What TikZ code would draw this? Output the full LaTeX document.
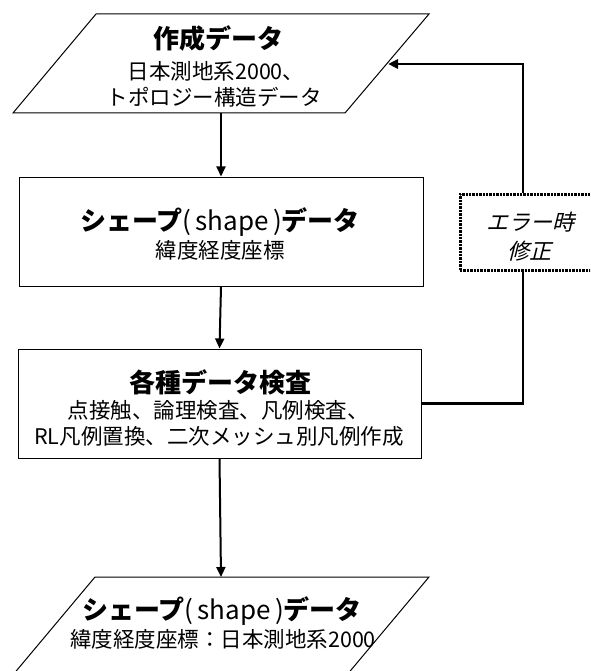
\documentclass[tikz,border=0pt]{standalone}
\usepackage{fontspec}
\setmainfont{Noto Sans CJK JP}
\newfontfamily\jpit{Noto Sans CJK JP}[FakeSlant=0.25]
\usetikzlibrary{arrows.meta}
\newcommand\shapeword{{\mdseries(\,shape\,)}}
\begin{document}
\begin{tikzpicture}[x=1pt,y=-1pt,
  outline/.style={draw=black,line width=1pt},
  procbox/.style={outline,inner sep=0pt,minimum width=404pt,minimum height=109pt},
  ttl/.style={font=\fontsize{26}{30}\selectfont\bfseries,inner sep=0pt},
  txt/.style={font=\fontsize{21.5}{25}\selectfont,inner sep=0pt},
  ittxt/.style={font=\fontsize{22}{26}\selectfont\jpit,inner sep=0pt},
  flow/.style={line width=2pt,-{Triangle[length=10pt,width=9pt]}},
  fb/.style={line width=2.5pt},
  errbox/.style={draw=black,line width=3pt,dash pattern=on 2.4pt off 1pt,
    inner sep=0pt,minimum width=136pt,minimum height=76pt}]
\useasboundingbox (0,0) rectangle (590,671);
\clip (0,0) rectangle (590,671);
% top data (parallelogram)
\draw[outline] (96,14) -- (429,14) -- (345,113) -- (13,113) -- cycle;
\coordinate (p1b) at (221,113);
\coordinate (p1r) at (388,64);
\node[ttl] (p1title) at (218,39) {作成データ};
\node[txt] (p1l1) at (216,71) {日本測地系2000、};
\node[txt] (p1l2) at (214,97) {トポロジー構造データ};
% shape data
\node[procbox] (r2) at (221,231.5) {};
\node[ttl] (r2title) at (220,222) {シェープ\shapeword データ};
\node[txt] (r2l1) at (220,250) {緯度経度座標};
% checks
\node[procbox,minimum width=403pt] (r3) at (219.5,403.5) {};
\node[ttl] (r3title) at (220,382) {各種データ検査};
\node[txt] (r3l1) at (218,410) {点接触、論理検査、凡例検査、};
\node[txt] (r3l2) at (219,436) {RL凡例置換、二次メッシュ別凡例作成};
% error box
\node[errbox] (err) at (528,232) {};
\node[ittxt] (errl1) at (530,222) {エラー時};
\node[ittxt] (errl2) at (529,251) {修正};
% bottom data
\draw[outline] (95,577) -- (429,577) -- (346,676) -- (12,676) -- cycle;
\coordinate (p2t) at (221,577);
\node[ttl] (p2title) at (222,611) {シェープ\shapeword データ};
\node[txt] (p2l1) at (223,639) {緯度経度座標：日本測地系2000};
% connectors
\coordinate (fbx) at (523,0);
\draw[flow] (p1b) -- (r2.north);
\draw[flow] (r2.south) -- (r3.north);
\draw[flow] (r3.south) -- (p2t);
\draw[fb] (r3.east) -| (fbx |- err.south);
\draw[fb,-{Triangle[length=10pt,width=9pt]}] (fbx |- err.north) |- (p1r);
\end{tikzpicture}
\end{document}
